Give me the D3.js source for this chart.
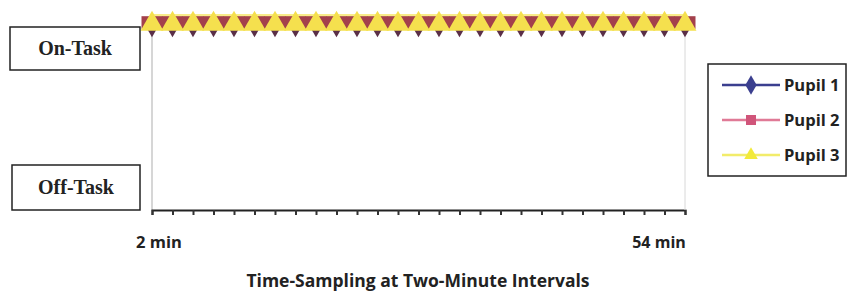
<!DOCTYPE html>
<html>
<head>
<meta charset="utf-8">
<script src="https://cdn.jsdelivr.net/npm/d3@7"></script>
<style>
  body { margin: 0; background: #fff; }
  svg { display: block; }
</style>
</head>
<body>
<svg id="chart" width="850" height="292"></svg>
<script>
var width = 850,
    height = 292;

// sampling times, every two minutes
var minutes = [2, 4, 6, 8, 10, 12, 14, 16, 18, 20, 22, 24, 26, 28, 30,
               32, 34, 36, 38, 40, 42, 44, 46, 48, 50, 52, 54];
// 1 = on-task, 0 = off-task
var pupil1 = [1, 1, 1, 1, 1, 1, 1, 1, 1, 1, 1, 1, 1, 1, 1, 1, 1, 1, 1, 1, 1, 1, 1, 1, 1, 1, 1];
var pupil2 = [1, 1, 1, 1, 1, 1, 1, 1, 1, 1, 1, 1, 1, 1, 1, 1, 1, 1, 1, 1, 1, 1, 1, 1, 1, 1, 1];
var pupil3 = [1, 1, 1, 1, 1, 1, 1, 1, 1, 1, 1, 1, 1, 1, 1, 1, 1, 1, 1, 1, 1, 1, 1, 1, 1, 1, 1];
var seriesNames = ["Pupil 1", "Pupil 2", "Pupil 3"];
var stateLabels = ["Off-Task", "On-Task"];
var endLabels = ["2 min", "54 min"];

var series = [
  {name: seriesNames[0], values: pupil1, line: "#3b3f8f", fill: "#5a2f48", shape: d3.symbolDiamond},
  {name: seriesNames[1], values: pupil2, line: "#e07a96", fill: "#a3404c", shape: d3.symbolSquare},
  {name: seriesNames[2], values: pupil3, line: "#f2ec6a", fill: "#f5e04e", shape: d3.symbolTriangle}
];

var svg = d3.select("#chart");

var x = d3.scaleLinear().domain([2, 54]).range([152, 685]);
var y = d3.scaleLinear().domain([0, 1]).range([210, 22]);
var step = x(4) - x(2);

// y axis, light grey
svg.append("line")
  .attr("x1", x(2)).attr("x2", x(2))
  .attr("y1", 18).attr("y2", y(0))
  .attr("stroke", "#c8c8c8").attr("stroke-width", 1.5);

// x axis with ticks below
var xAxis = d3.axisBottom(x).tickValues(minutes).tickSize(5).tickFormat("");
var gx = svg.append("g")
  .attr("transform", "translate(0," + y(0) + ")")
  .call(xAxis);
gx.select(".domain").attr("stroke", "#222").attr("stroke-width", 2);
gx.selectAll(".tick line").attr("stroke", "#333").attr("stroke-width", 2);

// right edge of plot
svg.append("line")
  .attr("x1", x(54)).attr("x2", x(54))
  .attr("y1", 18).attr("y2", y(0))
  .attr("stroke", "#d8d8d8").attr("stroke-width", 1);

// lines
var line = d3.line()
  .x(function(d, i) { return x(minutes[i]); })
  .y(function(d) { return y(d); });

series.forEach(function(s) {
  svg.append("path")
    .datum(s.values)
    .attr("fill", "none")
    .attr("stroke", s.line)
    .attr("stroke-width", 2.5)
    .attr("d", line);
});

// yellow glow of the overlapping markers
svg.append("path")
  .datum(pupil3)
  .attr("fill", "none")
  .attr("stroke", "#f8ec8a")
  .attr("stroke-width", 14)
  .attr("d", line.y(function(d) { return y(d) - 1; }));
line.y(function(d) { return y(d); });

// markers: diamonds, squares, then triangles on top
var triSide = step * 1.12;
var sizes = [110, step * step * 1.05, Math.sqrt(3) / 4 * triSide * triSide];
var offsets = [5.5, 0.5, 2];
var squash = [1, 0.6, 1];
series.forEach(function(s, k) {
  svg.append("g").selectAll("path")
    .data(s.values)
    .join("path")
    .attr("transform", function(d, i) {
      return "translate(" + x(minutes[i]) + "," + (y(d) + offsets[k]) + ") scale(1," + squash[k] + ")";
    })
    .attr("d", d3.symbol().type(s.shape).size(sizes[k]))
    .attr("fill", s.fill);
});

// state label boxes
var boxes = [
  {label: stateLabels[1], x: 10, y: 27, w: 130, h: 43},
  {label: stateLabels[0], x: 12, y: 165, w: 128, h: 45}
];
boxes.forEach(function(b) {
  svg.append("rect")
    .attr("x", b.x).attr("y", b.y).attr("width", b.w).attr("height", b.h)
    .attr("fill", "#fff").attr("stroke", "#222").attr("stroke-width", 1.5);
  svg.append("text")
    .attr("x", b.x + b.w / 2).attr("y", b.y + b.h / 2 + 6)
    .attr("text-anchor", "middle")
    .attr("font-family", "Liberation Serif, serif")
    .attr("font-weight", "bold")
    .attr("font-size", "20px")
    .attr("fill", "#222")
    .text(b.label);
});

// end labels
svg.append("text")
  .attr("x", 159).attr("y", 248)
  .attr("text-anchor", "middle")
  .attr("font-family", "Open Sans, sans-serif").attr("font-weight", "bold")
  .attr("font-size", "16.5px").attr("fill", "#222")
  .text(endLabels[0]);
svg.append("text")
  .attr("x", 659).attr("y", 248)
  .attr("text-anchor", "middle")
  .attr("font-family", "Open Sans, sans-serif").attr("font-weight", "bold")
  .attr("font-size", "16px").attr("fill", "#222")
  .text(endLabels[1]);

// title
svg.append("text")
  .attr("x", 418).attr("y", 287)
  .attr("text-anchor", "middle")
  .attr("font-family", "Open Sans, sans-serif").attr("font-weight", "bold")
  .attr("font-size", "17.5px").attr("fill", "#222")
  .text("Time-Sampling at Two-Minute Intervals");

// legend
var legend = svg.append("g").attr("transform", "translate(708,64)");
legend.append("rect")
  .attr("width", 138).attr("height", 112)
  .attr("fill", "#fff").attr("stroke", "#222").attr("stroke-width", 1.5);
var legendSizes = [110, 100, 80];
var legendFill = ["#3b3f8f", "#d0557a", "#f2ea3a"];
series.forEach(function(s, i) {
  var ly = 21 + i * 35;
  legend.append("line")
    .attr("x1", 14).attr("x2", 72).attr("y1", ly).attr("y2", ly)
    .attr("stroke", s.line).attr("stroke-width", 2.5);
  legend.append("path")
    .attr("transform", "translate(43," + ly + ")")
    .attr("d", d3.symbol().type(s.shape).size(legendSizes[i]))
    .attr("fill", legendFill[i]);
  legend.append("text")
    .attr("x", 76).attr("y", ly + 6)
    .attr("font-family", "Open Sans, sans-serif").attr("font-weight", "bold")
    .attr("font-size", "16.5px").attr("fill", "#222")
    .text(s.name);
});
</script>
</body>
</html>
